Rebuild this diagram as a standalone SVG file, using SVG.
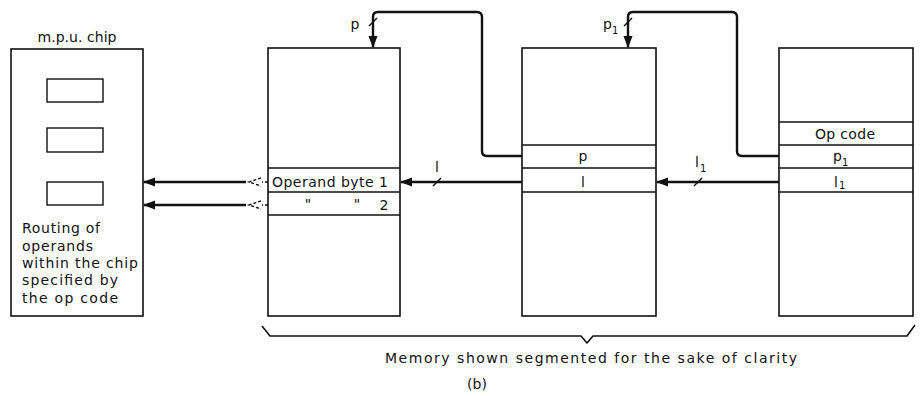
<svg xmlns="http://www.w3.org/2000/svg" width="923" height="396" viewBox="0 0 923 396">
<defs>
<style>
.box{fill:#fff;stroke:#111;stroke-width:1.6}
.row{fill:none;stroke:#111;stroke-width:1.4}
.wire{fill:none;stroke:#111;stroke-width:2.4;stroke-linejoin:round}
.tick{fill:none;stroke:#111;stroke-width:1.4}
.t{font-family:"DejaVu Sans","Liberation Sans",sans-serif;font-size:14px;fill:#111}
.s{font-family:"DejaVu Sans","Liberation Sans",sans-serif;font-size:10px;fill:#111}
.mid{text-anchor:middle}
</style>
<marker id="ah" viewBox="0 0 12 10" refX="11" refY="5" markerWidth="12" markerHeight="10" markerUnits="userSpaceOnUse" orient="auto">
<path d="M0,0.5 L12,5 L0,9.5 Z" fill="#111"/>
</marker>
</defs>
<rect width="923" height="396" fill="#fff"/>

<g id="chip">
<text class="t mid" x="77" y="42" textLength="79" lengthAdjust="spacing">m.p.u. chip</text>
<rect class="box" x="11" y="49" width="132" height="267"/>
<rect class="row" x="47" y="79" width="56" height="23"/>
<rect class="row" x="47" y="128" width="56" height="24"/>
<rect class="row" x="47" y="182" width="56" height="23"/>
<text class="t" x="22" y="233" textLength="78" lengthAdjust="spacing">Routing of</text>
<text class="t" x="22" y="251" textLength="71" lengthAdjust="spacing">operands</text>
<text class="t" x="22" y="268" textLength="116" lengthAdjust="spacing">within the chip</text>
<text class="t" x="22" y="285" textLength="96" lengthAdjust="spacing">specified by</text>
<text class="t" x="22" y="303" textLength="96" lengthAdjust="spacing">the op code</text>
</g>

<g id="mem1">
<rect class="box" x="268" y="48" width="132" height="268"/>
<line class="row" x1="268" y1="168" x2="400" y2="168"/>
<line class="row" x1="268" y1="192" x2="400" y2="192"/>
<line class="row" x1="268" y1="215" x2="400" y2="215"/>
<text class="t" x="272" y="187" textLength="116" lengthAdjust="spacing">Operand byte 1</text>
<text class="t mid" x="308" y="209">"</text>
<text class="t mid" x="357" y="209">"</text>
<text class="t mid" x="384" y="210">2</text>
</g>

<g id="mem2">
<rect class="box" x="522" y="48" width="134" height="268"/>
<line class="row" x1="522" y1="145" x2="656" y2="145"/>
<line class="row" x1="522" y1="168" x2="656" y2="168"/>
<line class="row" x1="522" y1="192" x2="656" y2="192"/>
<text class="t mid" x="583" y="161">p</text>
<text class="t mid" x="583" y="187">l</text>
</g>

<g id="mem3">
<rect class="box" x="779" y="48" width="134" height="268"/>
<line class="row" x1="779" y1="122" x2="913" y2="122"/>
<line class="row" x1="779" y1="145" x2="913" y2="145"/>
<line class="row" x1="779" y1="168" x2="913" y2="168"/>
<line class="row" x1="779" y1="192" x2="913" y2="192"/>
<text class="t mid" x="845" y="139" textLength="60" lengthAdjust="spacing">Op code</text>
<text class="t" x="833" y="161">p</text><text class="s" x="842" y="166">1</text>
<text class="t" x="834" y="187">l</text><text class="s" x="839" y="189">1</text>
</g>

<g id="connectors">
<line class="wire" x1="246" y1="182" x2="144" y2="182" marker-end="url(#ah)"/>
<line class="wire" x1="246" y1="205" x2="144" y2="205" marker-end="url(#ah)"/>
<path d="M268,182 L262,182 M261,178 L249,182 L261,186" fill="none" stroke="#111" stroke-width="1.4" stroke-dasharray="3,2"/>
<path d="M268,205 L262,205 M261,201 L249,205 L261,209" fill="none" stroke="#111" stroke-width="1.4" stroke-dasharray="3,2"/>
<line class="wire" x1="522" y1="182" x2="401" y2="182" marker-end="url(#ah)"/>
<line class="tick" x1="433" y1="186" x2="441" y2="178"/>
<text class="t mid" x="437" y="172">l</text>
<line class="wire" x1="779" y1="182" x2="657" y2="182" marker-end="url(#ah)"/>
<line class="tick" x1="694" y1="186" x2="702" y2="178"/>
<text class="t" x="695" y="167">l</text><text class="s" x="700" y="172">1</text>
<path class="wire" d="M522,156 L487,156 Q482,156 482,151 L482,17 Q482,12 477,12 L378,12 Q373,12 373,17 L373,47" marker-end="url(#ah)"/>
<line class="tick" x1="369" y1="26" x2="377" y2="18"/>
<text class="t mid" x="355" y="29">p</text>
<path class="wire" d="M779,156 L742,156 Q737,156 737,151 L737,17 Q737,12 732,12 L633,12 Q628,12 628,17 L628,47" marker-end="url(#ah)"/>
<line class="tick" x1="624" y1="26" x2="632" y2="18"/>
<text class="t" x="603" y="29">p</text><text class="s" x="612" y="34">1</text>
</g>

<g id="brace">
<path d="M262,326 L270,336 L581,336 L587,343 L593,336 L907,336 L915,325" fill="none" stroke="#111" stroke-width="1.6" stroke-linejoin="round"/>
<text class="t" x="385" y="363" textLength="412" lengthAdjust="spacing">Memory  shown segmented for the sake of clarity</text>
<text class="t mid" x="477" y="389">(b)</text>
</g>
</svg>
